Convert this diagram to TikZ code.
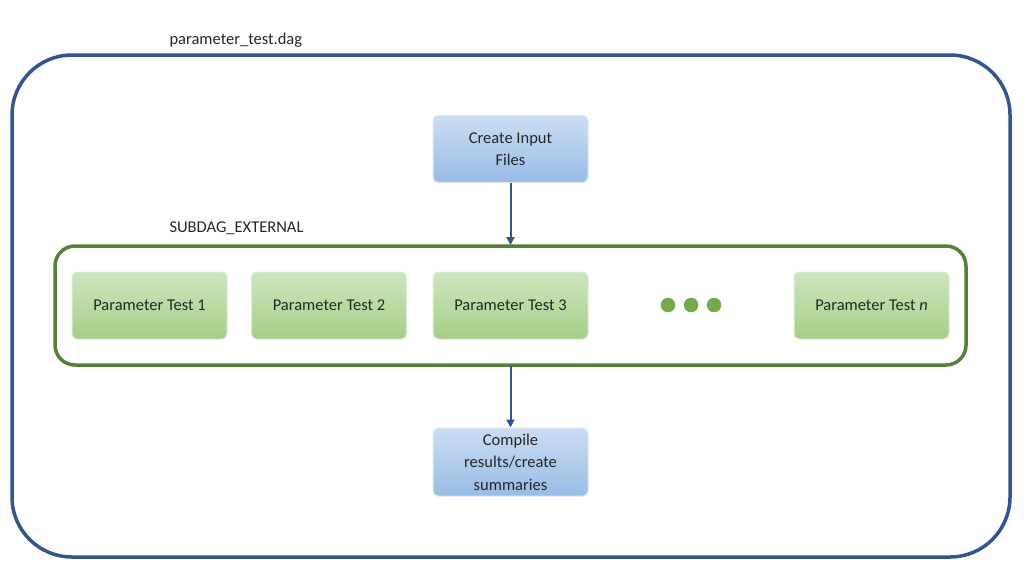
\documentclass[tikz,border=0pt]{standalone}
\usepackage{fontspec}
\setmainfont{Carlito}
\usetikzlibrary{arrows.meta}
\definecolor{dblue}{HTML}{2F5597}
\definecolor{dgreen}{HTML}{548235}
\definecolor{btop}{HTML}{CCDDF2}
\definecolor{bbot}{HTML}{96BCE6}
\definecolor{gtopc}{HTML}{CFE6BF}
\definecolor{gbotc}{HTML}{A4CE88}
\definecolor{dotc}{HTML}{70AD47}
\tikzset{
 bbox/.style={draw=btop!70!white,line width=1pt,rounded corners=5pt,top color=btop,bottom color=bbot,minimum width=155pt,minimum height=67pt,align=center,font=\fontsize{16.5}{22.5}\selectfont,text=black!85},
 gbox/.style={draw=gtopc!70!white,line width=1pt,rounded corners=5pt,top color=gtopc,bottom color=gbotc,minimum width=155pt,minimum height=67pt,align=center,font=\fontsize{16.5}{22}\selectfont,text=black!85},
 lab/.style={font=\fontsize{16.5}{20}\selectfont,text=black!85,anchor=west},
 arr/.style={draw=dblue,line width=2pt,-{Triangle[length=8pt,width=8pt]}},
 dot/.style={circle,fill=dotc,draw=dgreen!80,minimum size=14pt,inner sep=0pt}
}
\begin{document}
\begin{tikzpicture}[x=1pt,y=-1pt]
\useasboundingbox (0,0) rectangle (1024,576);
\draw[dblue,line width=3.5pt,rounded corners=60pt] (12,55) rectangle (1010,557);
\node[lab] (t1) at (166,40) {parameter\_test.dag};
\node[bbox] (cif) at (510.5,149) {Create Input\\Files};
\node[lab] (t2) at (166,228) {SUBDAG\_EXTERNAL};
\draw[dgreen,line width=3.5pt,rounded corners=20pt] (55,246) rectangle (966,365);
\coordinate (gtop) at (510.5,245);
\coordinate (gbot) at (510.5,366);
\node[gbox] (p1) at (149.5,305.5) {Parameter Test 1};
\node[gbox] (p2) at (329,305.5) {Parameter Test 2};
\node[gbox] (p3) at (510.5,305.5) {Parameter Test 3};
\node[gbox] (pn) at (871.5,305.5) {Parameter Test \textit{n}};
\node[dot] (d1) at (668,305) {};
\node[dot] (d2) at (691,305) {};
\node[dot] (d3) at (714,305) {};
\node[bbox,minimum height=68pt] (cr) at (510.5,462) {Compile\\results/create\\summaries};
\draw[arr] (cif) -- (gtop);
\draw[arr] (gbot) -- (cr);
\end{tikzpicture}
\end{document}
